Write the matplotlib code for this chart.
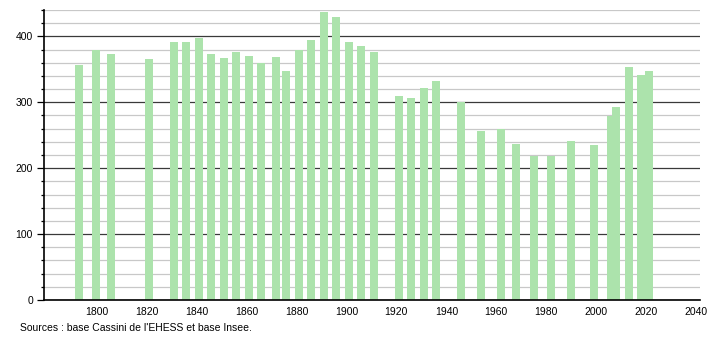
import matplotlib
matplotlib.use('Agg')
import matplotlib.pyplot as plt
from matplotlib.ticker import MultipleLocator

# ── data ─────────────────────────────────────────────────────────────────────
years = [1793, 1800, 1806, 1821, 1831, 1836, 1841, 1846, 1851, 1856,
         1861, 1866, 1872, 1876, 1881, 1886, 1891, 1896, 1901, 1906,
         1911, 1921, 1926, 1931, 1936, 1946, 1954, 1962, 1968, 1975,
         1982, 1990, 1999, 2006, 2008, 2013, 2018, 2021]
population = [356, 380, 373, 366, 392, 392, 397, 374, 367, 377,
              370, 360, 368, 347, 380, 394, 437, 430, 392, 386,
              376, 310, 307, 322, 333, 301, 256, 260, 237, 218,
              218, 242, 235, 279, 293, 353, 342, 348]
xticks = list(range(1800, 2041, 20))
source = "Sources : base Cassini de l'EHESS et base Insee."

# ── style ────────────────────────────────────────────────────────────────────
plt.rcParams.update({
    'font.family': 'Liberation Sans',
    'font.size': 7.5,
})
BAR = '#ace3ac'

fig = plt.figure(figsize=(7.1, 3.4), dpi=100)
ax = fig.add_axes([44 / 710, 40 / 340, 656 / 710, 290 / 340])

ax.bar(years, population, width=3.2, color=BAR, zorder=2)

ax.set_xlim(1779, 2041.5)
ax.set_ylim(0, 440)
ax.set_xticks(xticks)
ax.yaxis.set_major_locator(MultipleLocator(100))
ax.yaxis.set_minor_locator(MultipleLocator(20))

ax.grid(axis='y', which='minor', color='#c8c8c8', lw=0.9, zorder=1)
ax.grid(axis='y', which='major', color='#3a3a3a', lw=0.9, zorder=1)
ax.set_axisbelow(True)

for side in ('top', 'right'):
    ax.spines[side].set_visible(False)
ax.spines['left'].set_linewidth(1.2)
ax.spines['bottom'].set_linewidth(1.2)

ax.tick_params(axis='x', length=0, pad=5)
ax.tick_params(axis='y', which='major', length=5, width=0.9, pad=3)
ax.tick_params(axis='y', which='minor', length=2.5, width=0.9)

fig.text(20 / 710, 1 - 328 / 340, source, fontsize=7.5, va='center', ha='left')

plt.savefig('out.png', dpi=100)
plt.close()
